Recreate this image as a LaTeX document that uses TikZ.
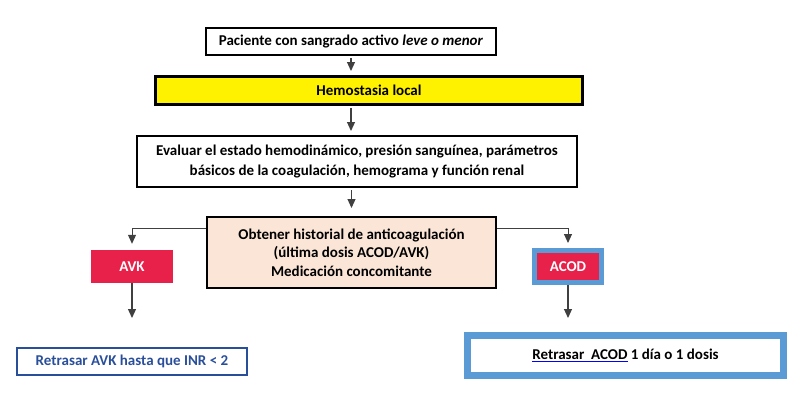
\documentclass[tikz,border=0pt]{standalone}
\usepackage{fontspec}
\setmainfont{Carlito}
\usetikzlibrary{arrows.meta}
\definecolor{avkred}{HTML}{E8214A}
\definecolor{lightblue}{HTML}{5B9BD5}
\definecolor{darkblue}{HTML}{2A4F9A}
\definecolor{peach}{HTML}{FBE5D6}
\definecolor{arrowgray}{HTML}{404040}
\begin{document}
\begin{tikzpicture}[
    x=1pt, y=-1pt,
    every node/.style={font=\fontsize{15}{18.5}\selectfont\bfseries, align=center, inner sep=0pt},
    stepbox/.style={rectangle, draw=black, line width=2pt},
    drugbox/.style={rectangle, fill=avkred, text=white, minimum width=82pt, minimum height=33pt},
    link/.style={draw=arrowgray, line width=1.2pt, -{Triangle[width=8pt,length=9pt]}, shorten <=2pt, shorten >=4pt}
]
\useasboundingbox (0,0) rectangle (802,402);

% Main steps
\node[stepbox, minimum width=290pt, minimum height=27pt] (patient) at (351,41.5) {Paciente con sangrado activo \textit{leve o menor}};
\node[stepbox, line width=3pt, fill=yellow, minimum width=427pt, minimum height=28pt] (local) at (369,90.5) {Hemostasia local};
\node[stepbox, minimum width=440pt, minimum height=51pt, font=\fontsize{15}{20}\selectfont\bfseries] (assess) at (357,161.5) {Evaluar el estado hemodinámico, presión sanguínea, parámetros\\básicos de la coagulación, hemograma y función renal};
\node[stepbox, fill=peach, minimum width=289pt, minimum height=71pt] (history) at (351.5,252.5) {Obtener historial de anticoagulación\\(última dosis ACOD/AVK)\\Medicación concomitante};

% Anticoagulant type
\node[drugbox] (avk) at (132,266.5) {AVK};
\node[drugbox, draw=lightblue, line width=5pt, minimum width=67pt, minimum height=32pt] (acod) at (568,266.5) {ACOD};

% Actions
\node[stepbox, draw=darkblue, text=darkblue, minimum width=230pt, minimum height=27pt] (delayavk) at (132,361.5) {Retrasar AVK hasta que INR < 2};
\node[stepbox, draw=lightblue, line width=7pt, fill=white, minimum width=316pt, minimum height=40pt] (delayacod) at (625.5,355.5) {{\color{blue}\underline{\color{black}Retrasar~~ACOD}} 1 día o 1 dosis};

% Connections between steps
\draw[link] (patient.south) -- (patient.south |- local.north);
\draw[link] (local.south -| patient.south) -- (patient.south |- assess.north);
\draw[link, shorten >=8pt] (assess.south -| history.north) -- (history.north);

% Branches
\draw[link, line width=1pt, shorten <=0pt, shorten >=6pt] ([yshift=-12pt]history.north west) -| (avk.north);
\draw[link, line width=1pt, shorten <=0pt, shorten >=5pt] ([yshift=-12pt]history.north east) -| (acod.north);
\draw[link, shorten <=0pt, shorten >=29pt] (avk.south) -- (delayavk.north);
\draw[link, shorten <=0pt, shorten >=14pt] (acod.south) -- (acod.south |- delayacod.north);
\end{tikzpicture}
\end{document}
